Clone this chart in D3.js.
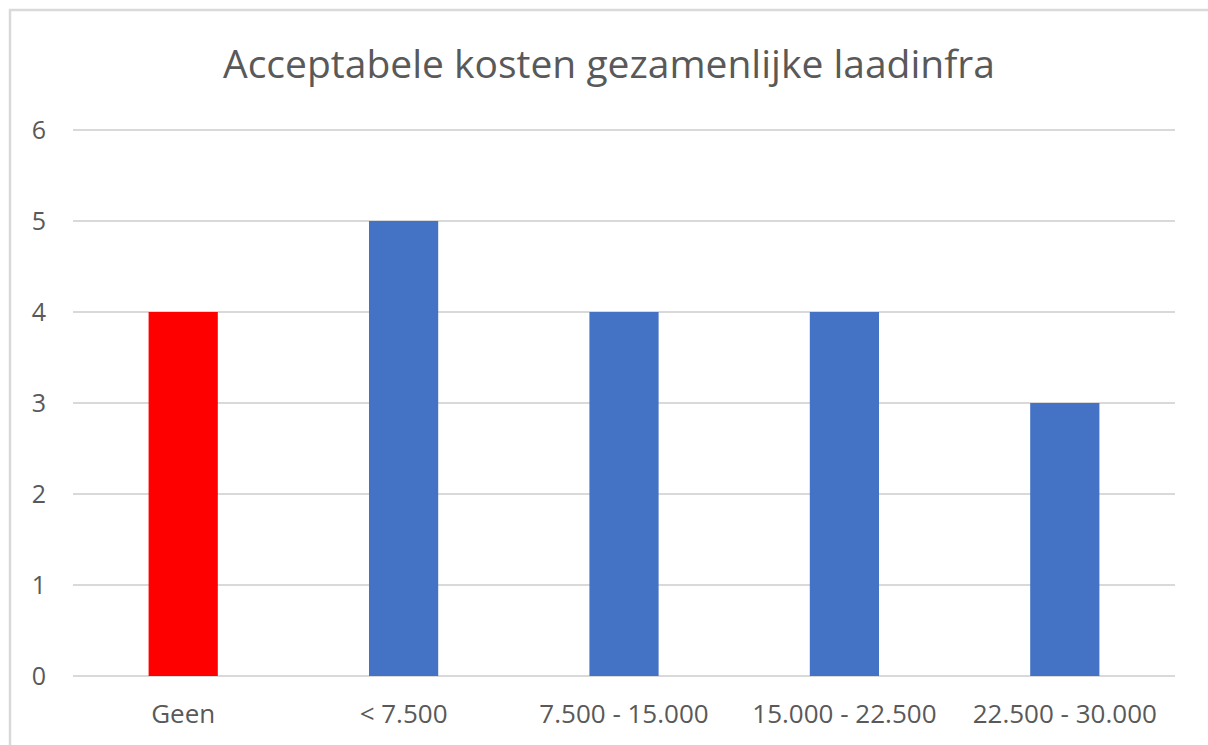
<!DOCTYPE html>
<html>
<head>
<meta charset="utf-8">
<script src="https://cdn.jsdelivr.net/npm/d3@7"></script>
<style>
  body { margin: 0; background: #fff; }
  svg { display: block; }
</style>
</head>
<body>
<div id="chart"></div>
<script>
const title = 'Acceptabele kosten gezamenlijke laadinfra';
const categories = ['Geen', '< 7.500', '7.500 - 15.000', '15.000 - 22.500', '22.500 - 30.000'];
const values = [4, 5, 4, 4, 3];
const barColors = ['#ff0000', '#4472c4', '#4472c4', '#4472c4', '#4472c4'];
const yTicks = [0, 1, 2, 3, 4, 5, 6];

const width = 1208, height = 745;
const margin = { top: 130, left: 73, right: 33, bottom: 69 };
const font = '"Open Sans", "Noto Sans", sans-serif';
const textColor = '#595959';

const svg = d3.select('#chart')
    .append('svg')
    .attr('width', width)
    .attr('height', height);

// chart frame (only left and top edges are visible in the crop)
svg.append('rect')
    .attr('x', 10).attr('y', 10)
    .attr('width', width).attr('height', height)
    .attr('fill', 'none')
    .attr('stroke', '#d9d9d9')
    .attr('stroke-width', 2.5);

const x = d3.scaleBand()
    .domain(categories)
    .range([margin.left, width - margin.right]);

const y = d3.scaleLinear()
    .domain([0, 6])
    .range([height - margin.bottom, margin.top]);

const barWidth = x.bandwidth() * 0.314;

// gridlines
svg.append('g')
    .selectAll('line')
    .data(yTicks)
    .enter()
    .append('line')
    .attr('x1', margin.left)
    .attr('x2', width - margin.right)
    .attr('y1', (d) => y(d))
    .attr('y2', (d) => y(d))
    .attr('stroke', '#d9d9d9')
    .attr('stroke-width', 2);

// bars
svg.append('g')
    .selectAll('rect')
    .data(values)
    .enter()
    .append('rect')
    .attr('x', (d, i) => x(categories[i]) + x.bandwidth() / 2 - barWidth / 2)
    .attr('y', (d) => y(d))
    .attr('width', barWidth)
    .attr('height', (d) => y(0) - y(d))
    .attr('fill', (d, i) => barColors[i]);

// y tick labels
svg.append('g')
    .selectAll('text')
    .data(yTicks)
    .enter()
    .append('text')
    .attr('x', 46)
    .attr('y', (d) => y(d) + 9)
    .attr('text-anchor', 'end')
    .attr('font-family', font)
    .attr('font-size', 25)
    .attr('fill', textColor)
    .text((d) => d);

// x tick labels
svg.append('g')
    .selectAll('text')
    .data(categories)
    .enter()
    .append('text')
    .attr('x', (d) => x(d) + x.bandwidth() / 2)
    .attr('y', 723)
    .attr('text-anchor', 'middle')
    .attr('font-family', font)
    .attr('font-size', 26)
    .attr('fill', textColor)
    .text((d) => d);

// title
svg.append('text')
    .attr('x', 609)
    .attr('y', 78)
    .attr('text-anchor', 'middle')
    .attr('font-family', font)
    .attr('font-size', 39)
    .attr('fill', textColor)
    .text(title);
</script>
</body>
</html>
